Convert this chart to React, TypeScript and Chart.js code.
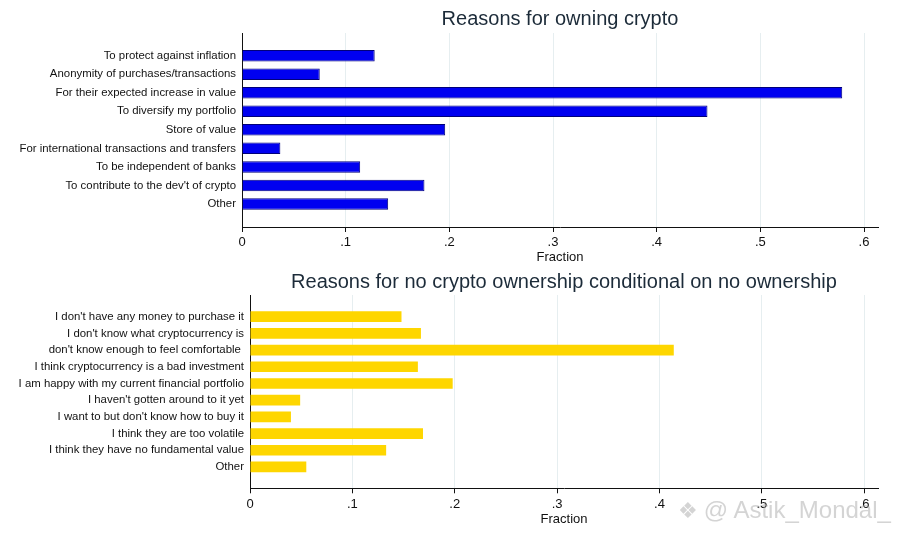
import React, { useEffect, useRef } from "react";
import { Chart, registerables } from "chart.js";

Chart.register(...registerables);

const ownLabels = [
  "To protect against inflation",
  "Anonymity of purchases/transactions",
  "For their expected increase in value",
  "To diversify my portfolio",
  "Store of value",
  "For international transactions and transfers",
  "To be independent of banks",
  "To contribute to the dev't of crypto",
  "Other",
];
const ownValues = [0.128, 0.075, 0.579, 0.449, 0.196, 0.037, 0.114, 0.176, 0.141];

const noOwnLabels = [
  "I don't have any money to purchase it",
  "I don't know what cryptocurrency is",
  "don't know enough to feel comfortable ",
  "I think cryptocurrency is a bad investment",
  "I am happy with my current financial portfolio",
  "I haven't gotten around to it yet",
  "I want to but don't know how to buy it",
  "I think they are too volatile",
  "I think they have no fundamental value",
  "Other",
];
const noOwnValues = [0.148, 0.167, 0.414, 0.164, 0.198, 0.049, 0.04, 0.169, 0.133, 0.055];

const xTickValues = [0, 0.1, 0.2, 0.3, 0.4, 0.5, 0.6];

const FONT = "'Liberation Sans', Arial, sans-serif";

type Cfg = {
  title: string;
  labels: string[];
  values: number[];
  fill: string;
  border: string;
  borderWidth: number;
  barPct: number;
  yMin: number;
  yMax: number;
  leftWidth: number;
  bottomHeight: number;
  titlePadTop: number;
  titlePadBottom: number;
  xTitlePadBottom: number;
};

function fmt(v: number): string {
  if (Math.abs(v) < 1e-9) return "0";
  return (Math.round(v * 10) / 10).toString().replace(/^0/, "");
}

function BarPanel({ cfg, top }: { cfg: Cfg; top: number }) {
  const ref = useRef<HTMLCanvasElement | null>(null);
  useEffect(() => {
    if (!ref.current) return;
    const chart = new Chart(ref.current, {
      type: "bar",
      data: {
        datasets: [
          {
            data: cfg.values.map((v, i) => ({ x: v, y: i })),
            backgroundColor: cfg.fill,
            borderColor: cfg.border,
            borderWidth: cfg.borderWidth,
            barPercentage: cfg.barPct,
            categoryPercentage: 1,
          },
        ],
      },
      options: {
        indexAxis: "y",
        responsive: false,
        animation: false,
        devicePixelRatio: 1,
        layout: { padding: { left: 0, right: 28, top: 0, bottom: 0 } },
        plugins: {
          legend: { display: false },
          tooltip: { enabled: false },
          title: {
            display: true,
            text: cfg.title,
            fullSize: false,
            color: "#1c2b39",
            font: { family: FONT, size: 20, weight: "normal" },
            padding: { top: cfg.titlePadTop, bottom: cfg.titlePadBottom },
          },
        },
        scales: {
          x: {
            type: "linear",
            min: 0,
            max: 0.6135,
            afterFit: (s: any) => {
              s.height = cfg.bottomHeight;
            },
            afterBuildTicks: (s: any) => {
              s.ticks = xTickValues.map((v) => ({ value: v }));
            },
            ticks: {
              includeBounds: false,
              autoSkip: false,
              maxRotation: 0,
              padding: 3,
              color: "#111",
              font: { family: FONT, size: 13 },
              callback: (v: any) => fmt(Number(v)),
            },
            grid: {
              color: "#e6eef0",
              lineWidth: 1,
              tickColor: "#111",
              tickLength: 5,
              drawTicks: true,
            },
            border: { display: true, color: "#111", width: 1 },
            title: {
              display: true,
              text: "Fraction",
              color: "#111",
              font: { family: FONT, size: 13 },
              padding: { top: 0, bottom: cfg.xTitlePadBottom },
            },
          },
          y: {
            type: "linear",
            reverse: true,
            offset: false,
            min: cfg.yMin,
            max: cfg.yMax,
            afterFit: (s: any) => {
              s.width = cfg.leftWidth;
            },
            afterBuildTicks: (s: any) => {
              s.ticks = cfg.labels.map((_, i) => ({ value: i }));
            },
            ticks: {
              autoSkip: false,
              padding: 6,
              color: "#111",
              font: { family: FONT, size: 11.4 },
              callback: (v: any) => cfg.labels[Number(v)] ?? "",
            },
            grid: { display: false, drawTicks: false, offset: false },
            border: { display: true, color: "#111", width: 1 },
          },
        },
      },
    } as any);
    return () => chart.destroy();
  }, [cfg]);
  return (
    <canvas
      ref={ref}
      width={906}
      height={270}
      style={{ position: "absolute", left: 0, top, width: 906, height: 270 }}
    />
  );
}

const topCfg: Cfg = {
  title: "Reasons for owning crypto",
  labels: ownLabels,
  values: ownValues,
  fill: "#0000f0",
  border: "#00007a",
  borderWidth: 1,
  barPct: 0.62,
  yMin: -1.22,
  yMax: 9.24,
  leftWidth: 242,
  bottomHeight: 43,
  titlePadTop: 7.4,
  titlePadBottom: 1.6,
  xTitlePadBottom: 5,
};

const bottomCfg: Cfg = {
  title: "Reasons for no crypto ownership conditional on no ownership",
  labels: noOwnLabels,
  values: noOwnValues,
  fill: "#fed600",
  border: "#fed600",
  borderWidth: 0,
  barPct: 0.64,
  yMin: -1.3,
  yMax: 10.28,
  leftWidth: 250,
  bottomHeight: 51.7,
  titlePadTop: 0,
  titlePadBottom: 1,
  xTitlePadBottom: 13,
};

export default function App() {
  return (
    <div
      style={{
        position: "absolute",
        left: 0,
        top: 0,
        width: 906,
        height: 540,
        background: "#fff",
        overflow: "hidden",
      }}
    >
      <BarPanel cfg={topCfg} top={0} />
      <BarPanel cfg={bottomCfg} top={270} />
      <div
        style={{
          position: "absolute",
          left: 678,
          top: 495,
          fontFamily: FONT,
          fontSize: 24,
          color: "rgba(160,160,160,0.45)",
          whiteSpace: "nowrap",
          lineHeight: "30px",
        }}
      >
        <span style={{ fontFamily: "'DejaVu Sans'", fontSize: 22, marginRight: 6 }}>❖</span>
        @ Astik_Mondal_
      </div>
    </div>
  );
}
